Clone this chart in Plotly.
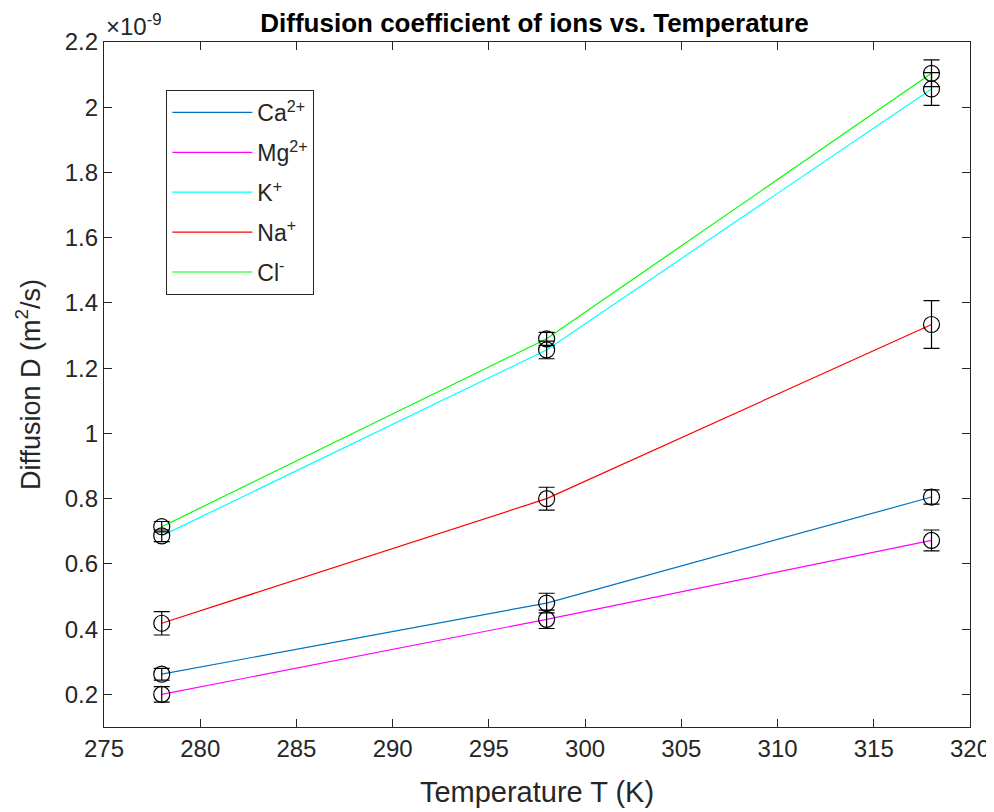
import plotly.graph_objects as go

temps = [278, 298, 318]
ions = ["Ca<sup>2+</sup>", "Mg<sup>2+</sup>", "K<sup>+</sup>", "Na<sup>+</sup>", "Cl<sup>-</sup>"]
colors = ["#0072BD", "#FF00FF", "#00FFFF", "#FF0000", "#00FF00"]
# Diffusion coefficients in units of 1e-9 m^2/s
ca = [0.262, 0.480, 0.805]
mg = [0.200, 0.430, 0.672]
k = [0.686, 1.256, 2.056]
na = [0.418, 0.800, 1.334]
cl = [0.714, 1.290, 2.104]
ca_err = [0.018, 0.030, 0.022]
mg_err = [0.024, 0.028, 0.032]
k_err = [0.018, 0.027, 0.050]
na_err = [0.036, 0.035, 0.073]
cl_err = [0.016, 0.020, 0.041]

series = [ca, mg, k, na, cl]
errs = [ca_err, mg_err, k_err, na_err, cl_err]

FONT = "Arial, Liberation Sans, Helvetica"
TXT = "#262626"

fig = go.Figure()
for i, (name, col, vals) in enumerate(zip(ions, colors, series)):
    fig.add_trace(go.Scatter(x=temps, y=vals, mode="lines", name=name,
                             line=dict(color=col, width=1.2),
                             legendgroup=str(i)))
for vals, err in zip(series, errs):
    fig.add_trace(go.Scatter(x=temps, y=vals, mode="markers", showlegend=False,
                             marker=dict(symbol="circle-open", size=16,
                                         color="black", line=dict(width=1.2, color="black")),
                             error_y=dict(type="data", array=err, color="black",
                                          thickness=1.2, width=8)))

axis_common = dict(showgrid=False, zeroline=False, showline=True, linecolor=TXT,
                   linewidth=1.2, mirror="ticks", ticks="inside", ticklen=8,
                   tickcolor=TXT, tickwidth=1.2, automargin=False,
                   tickfont=dict(family=FONT, size=24, color=TXT))

fig.update_xaxes(range=[275, 320], tickvals=[275, 280, 285, 290, 295, 300, 305, 310, 315, 320],
                 title=dict(text="Temperature T (K)", font=dict(family=FONT, size=29, color=TXT), standoff=20),
                 **axis_common)
fig.update_yaxes(range=[0.1, 2.2], tickvals=[0.2, 0.4, 0.6, 0.8, 1.0, 1.2, 1.4, 1.6, 1.8, 2.0, 2.2],
                 ticktext=["0.2", "0.4", "0.6", "0.8", "1", "1.2", "1.4", "1.6", "1.8", "2", "2.2"],
                 title=dict(text="Diffusion D (m<sup>2</sup>/s)", font=dict(family=FONT, size=27, color=TXT), standoff=16),
                 **axis_common)

fig.add_annotation(text="×10<sup>-9</sup>", xref="paper", yref="paper", x=0.0, y=1.0,
                   xanchor="left", yanchor="bottom", showarrow=False,
                   font=dict(family=FONT, size=24, color=TXT))

fig.update_layout(
    width=986, height=804,
    margin=dict(l=96, r=24, t=34, b=85),
    paper_bgcolor="white", plot_bgcolor="white",
    title=dict(text="<b>Diffusion coefficient of ions vs. Temperature</b>", x=0.534, xanchor="center",
               y=0.982, yanchor="middle",
               font=dict(family=FONT, size=26, color="black")),
    legend=dict(x=0.072, y=0.93, xanchor="left", yanchor="top",
                bordercolor=TXT, borderwidth=1, bgcolor="white",
                font=dict(family=FONT, size=23, color=TXT),
                itemwidth=80, traceorder="grouped", tracegroupgap=7),
    showlegend=True,
)

fig.write_html("out.html")
